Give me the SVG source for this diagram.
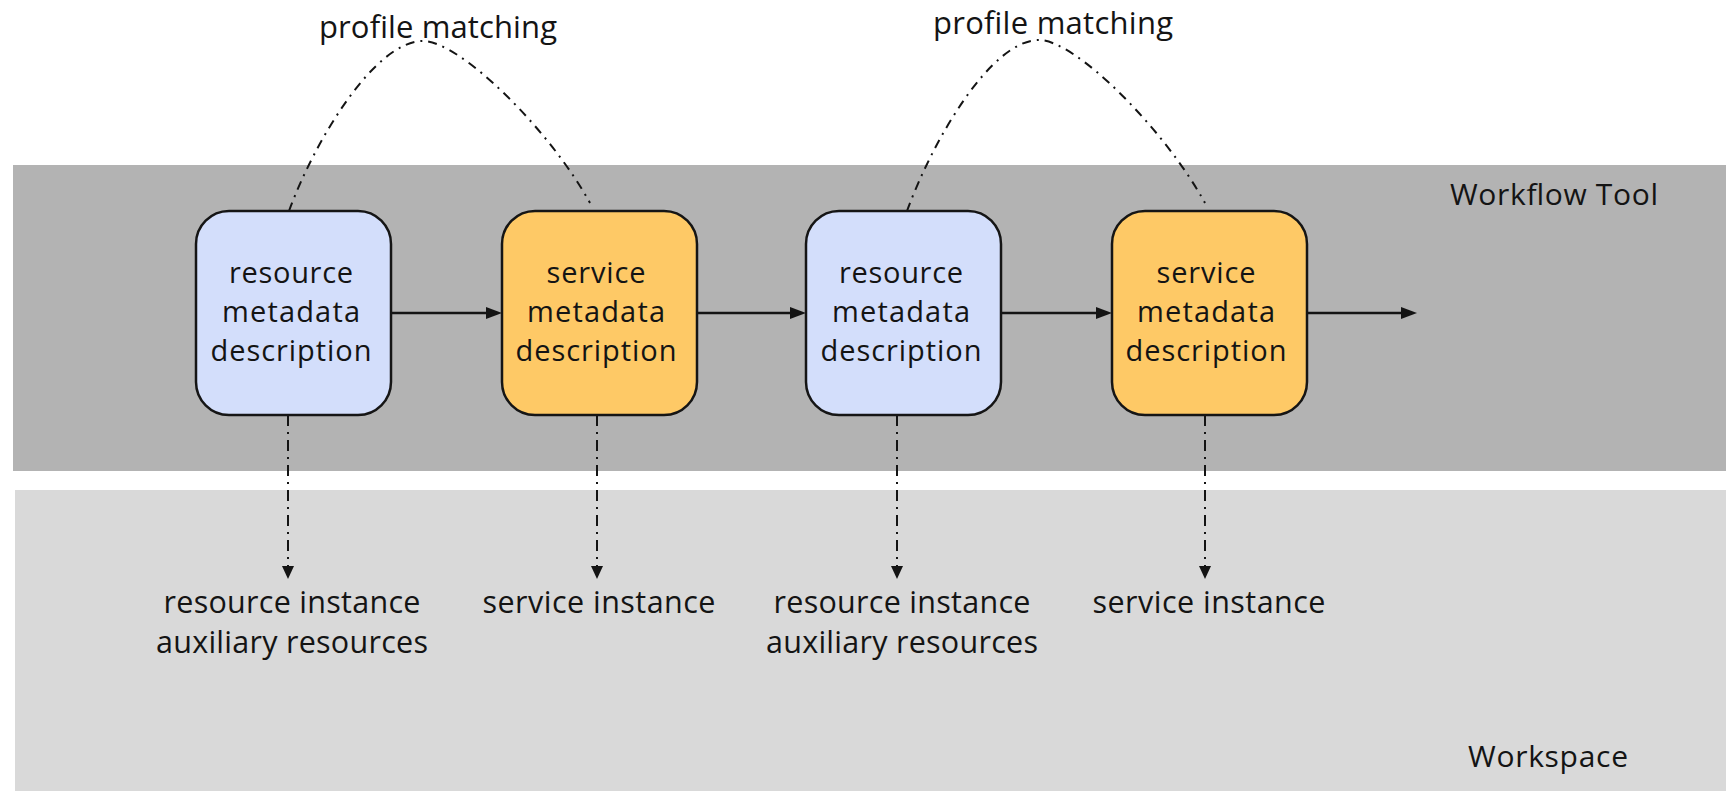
<svg xmlns="http://www.w3.org/2000/svg" width="1726" height="791" viewBox="0 0 1726 791">
<style>
.band1{fill:#b3b3b3}
.band2{fill:#d9d9d9}
.box{stroke:#151515;stroke-width:2.5}
.res{fill:#d3defb}
.svc{fill:#fec966}
text{font-family:"Open Sans","Liberation Sans",sans-serif;fill:#141414}
.nt{font-size:29px;text-anchor:middle}
.bt{font-size:30.5px;text-anchor:middle}
.pm{font-size:31px;text-anchor:middle}
.lb{font-size:30px}
.flow{stroke:#141414;stroke-width:2.5;fill:none}
.dd{stroke:#141414;stroke-width:2;fill:none;stroke-dasharray:11 6 2 6}
.arc{stroke:#141414;stroke-width:2;fill:none;stroke-dasharray:9 6 2 6}
</style>
<defs>
<marker id="ah" markerUnits="userSpaceOnUse" markerWidth="16" markerHeight="12" refX="0" refY="6" orient="auto">
<path d="M0,0 L16,6 L0,12 z" fill="#141414"/>
</marker>
<marker id="av" markerUnits="userSpaceOnUse" markerWidth="13" markerHeight="12" refX="0" refY="6" orient="auto">
<path d="M0,0 L13,6 L0,12 z" fill="#141414"/>
</marker>
</defs>

<g id="band-workflow">
<rect class="band1" x="13" y="165" width="1713" height="306"/>
<text class="lb" x="1450" y="205" textLength="208">Workflow Tool</text>
</g>
<g id="band-workspace">
<rect class="band2" x="15" y="490" width="1711" height="301"/>
<text class="lb" x="1468" y="767" textLength="160">Workspace</text>
</g>

<g id="connectors">
<line class="flow" x1="391" y1="313" x2="486" y2="313" marker-end="url(#ah)"/>
<line class="flow" x1="696" y1="313" x2="790" y2="313" marker-end="url(#ah)"/>
<line class="flow" x1="1000" y1="313" x2="1096" y2="313" marker-end="url(#ah)"/>
<line class="flow" x1="1306" y1="313" x2="1401" y2="313" marker-end="url(#ah)"/>
<line class="dd" x1="288" y1="415" x2="288" y2="566" marker-end="url(#av)"/>
<line class="dd" x1="597" y1="415" x2="597" y2="566" marker-end="url(#av)"/>
<line class="dd" x1="897" y1="415" x2="897" y2="566" marker-end="url(#av)"/>
<line class="dd" x1="1205" y1="415" x2="1205" y2="566" marker-end="url(#av)"/>
<path class="arc" d="M289,211 C315,140 375,41 423,41 C460,41 550,130 590,203"/>
<path class="arc" d="M907,211 C933,140 991,40 1039,40 C1076,40 1165,130 1205,203"/>
</g>

<g id="label-pm1"><text class="pm" x="438" y="38" textLength="238">profile matching</text></g>
<g id="label-pm2"><text class="pm" x="1053" y="34" textLength="240">profile matching</text></g>

<g id="node-res1">
<rect class="box res" x="196" y="211" width="195" height="204" rx="33"/>
<text class="nt" x="291" y="283" textLength="124">resource</text>
<text class="nt" x="291" y="322" textLength="138">metadata</text>
<text class="nt" x="291" y="361" textLength="161">description</text>
</g>
<g id="node-svc1">
<rect class="box svc" x="502" y="211" width="195" height="204" rx="33"/>
<text class="nt" x="596" y="283" textLength="99">service</text>
<text class="nt" x="596" y="322" textLength="138">metadata</text>
<text class="nt" x="596" y="361" textLength="161">description</text>
</g>
<g id="node-res2">
<rect class="box res" x="806" y="211" width="195" height="204" rx="33"/>
<text class="nt" x="901" y="283" textLength="124">resource</text>
<text class="nt" x="901" y="322" textLength="138">metadata</text>
<text class="nt" x="901" y="361" textLength="161">description</text>
</g>
<g id="node-svc2">
<rect class="box svc" x="1112" y="211" width="195" height="204" rx="33"/>
<text class="nt" x="1206" y="283" textLength="99">service</text>
<text class="nt" x="1206" y="322" textLength="138">metadata</text>
<text class="nt" x="1206" y="361" textLength="161">description</text>
</g>

<g id="out-res1">
<text class="bt" x="292" y="613" textLength="257">resource instance</text>
<text class="bt" x="292" y="653" textLength="272">auxiliary resources</text>
</g>
<g id="out-svc1">
<text class="bt" x="599" y="613" textLength="233">service instance</text>
</g>
<g id="out-res2">
<text class="bt" x="902" y="613" textLength="257">resource instance</text>
<text class="bt" x="902" y="653" textLength="272">auxiliary resources</text>
</g>
<g id="out-svc2">
<text class="bt" x="1209" y="613" textLength="233">service instance</text>
</g>
</svg>
